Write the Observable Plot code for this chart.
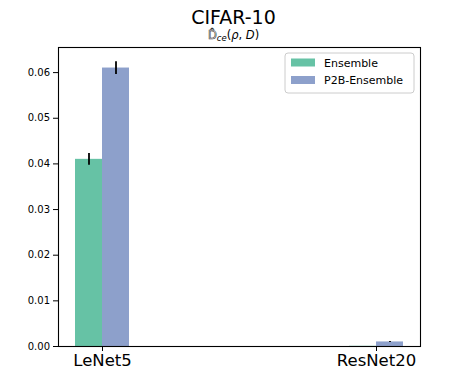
<!DOCTYPE html>
<html>
<head>
<meta charset="utf-8">
<script src="https://cdn.jsdelivr.net/npm/d3@7"></script>
<script src="https://cdn.jsdelivr.net/npm/@observablehq/plot@0.6"></script>
<style>
  html, body { margin: 0; padding: 0; background: white; }
  svg { font-family: "DejaVu Sans", sans-serif; }
</style>
</head>
<body>
<div id="chart"></div>
<script>
// ---- data ----
const models = ["LeNet5", "ResNet20"];
const methods = ["Ensemble", "P2B-Ensemble"];
const ensembleMean = [0.041, 0.00005];
const ensembleErr = [0.0013, 0.00002];
const p2bMean = [0.061, 0.0010];
const p2bErr = [0.0014, 0.0001];
const colors = ["#66c2a5", "#8da0cb"];
const yTicks = [0, 0.01, 0.02, 0.03, 0.04, 0.05, 0.06];
const titleText = "CIFAR-10";

// ---- layout ----
const W = 467, H = 389;
const mL = 58, mR = 47, mT = 47, mB = 43;
const padInner = 0.8036, padOuter = 0.06;
const innerW = W - mL - mR;
const step = innerW / (models.length - padInner + 2 * padOuter);
const bandW = step * (1 - padInner);
const half = bandW / 2;

const ens = models.map((m, i) => ({model: m, mean: ensembleMean[i], err: ensembleErr[i]}));
const p2b = models.map((m, i) => ({model: m, mean: p2bMean[i], err: p2bErr[i]}));

const chart = Plot.plot({
  width: W, height: H,
  marginLeft: mL, marginRight: mR, marginTop: mT, marginBottom: mB,
  style: {fontFamily: "DejaVu Sans, sans-serif", fontSize: "10px", color: "black", background: "white"},
  x: {type: "band", domain: models, paddingInner: padInner, paddingOuter: padOuter, align: 0.5, label: null},
  y: {domain: [0, 0.0655], label: null},
  marks: [
    Plot.barY(ens, {x: "model", y: "mean", fill: colors[0], insetLeft: 0, insetRight: half}),
    Plot.barY(p2b, {x: "model", y: "mean", fill: colors[1], insetLeft: half, insetRight: 0}),
    Plot.ruleX(ens, {x: "model", y1: d => d.mean - d.err, y2: d => d.mean + d.err, dx: -half / 2, stroke: "black", strokeWidth: 1.8}),
    Plot.ruleX(p2b, {x: "model", y1: d => d.mean - d.err, y2: d => d.mean + d.err, dx: half / 2, stroke: "black", strokeWidth: 1.8}),
    Plot.axisY({ticks: yTicks, tickFormat: d3.format(".2f"), tickSize: 5, tickPadding: 3.5, fontSize: 10, label: null}),
    Plot.axisX({tickSize: 5, tickPadding: 3, fontSize: 16.5, label: null}),
    Plot.frame({stroke: "black", strokeWidth: 1.1})
  ]
});

document.getElementById("chart").appendChild(chart);

const svg = d3.select(chart);
const cx = W / 2;
svg.append("text").attr("x", cx).attr("y", 24).attr("text-anchor", "middle")
  .attr("font-size", 19).attr("fill", "black").text(titleText);

const sub = svg.append("text").attr("x", cx).attr("y", 39).attr("text-anchor", "middle")
  .attr("font-size", 11.5).attr("fill", "black");
sub.append("tspan").attr("font-family", "DejaVu Sans").attr("fill", "white").attr("stroke", "#333").attr("stroke-width", 0.6).text("D\u0302");
sub.append("tspan").attr("font-style", "italic").attr("font-size", 8.5).attr("dy", 2).text("ce");
sub.append("tspan").attr("dy", -2).text("(");
sub.append("tspan").attr("font-style", "italic").text("ρ");
sub.append("tspan").text(", ");
sub.append("tspan").attr("font-style", "italic").text("D");
sub.append("tspan").text(")");

// legend
const lg = svg.append("g").attr("text-anchor", "start");
lg.append("rect").attr("x", 285).attr("y", 53).attr("width", 129).attr("height", 40)
  .attr("rx", 3).attr("fill", "white").attr("fill-opacity", 0.8).attr("stroke", "#cccccc");
methods.forEach((m, i) => {
  const yy = 62.5 + i * 17.5;
  lg.append("rect").attr("x", 291).attr("y", yy - 4).attr("width", 24).attr("height", 8).attr("fill", colors[i]);
  lg.append("text").attr("x", 324).attr("y", yy + 4).attr("text-anchor", "start")
    .attr("font-size", 11).attr("fill", "black").text(m);
});
</script>
</body>
</html>
